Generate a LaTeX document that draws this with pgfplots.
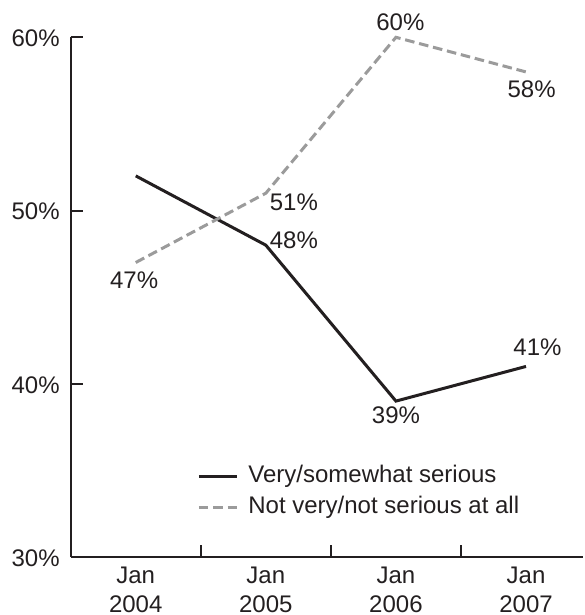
\documentclass[border=0pt]{standalone}
\usepackage{fontspec}
\setmainfont{Liberation Sans}
\usepackage{pgfplots}
\pgfplotsset{compat=1.18}
\definecolor{ink}{RGB}{35,31,32}
\definecolor{lightline}{RGB}{155,155,155}

\begin{document}
\begin{tikzpicture}[font=\fontsize{12}{14.2}\selectfont, text=ink]
\begin{axis}[
    scale only axis,
    width=256.15pt, height=259.85pt,
    xmin=-0.5, xmax=3.438,
    ymin=30, ymax=60,
    axis x line*=bottom, axis y line*=left,
    axis line style={ink, line width=1pt},
    tick style={ink, line width=1pt},
    tick align=inside,
    major tick length=6pt,
    ytick={30,40,50,60},
    yticklabels={30\%,40\%,50\%,60\%},
    yticklabel style={inner sep=0pt, xshift=-5.35pt, yshift=-0.5pt},
    xtick={0.5,1.5,2.5},
    xticklabels={},
    extra x ticks={0,1,2,3},
    extra x tick labels={Jan\\2004,Jan\\2005,Jan\\2006,Jan\\2007},
    extra x tick style={major tick length=0pt,
        xticklabel style={align=center, inner sep=0pt, yshift=-5pt}},
    clip=false,
    legend style={draw=none, fill=none, at={(0.2465,0.178)}, anchor=north west,
        inner sep=0pt, row sep=4pt,
        nodes={inner sep=0pt, text height=8.8pt, text depth=2.6pt}},
    legend cell align=left,
    legend image code/.code={\draw[#1] (0pt,0pt) -- (19pt,0pt); \path (24pt,0pt);},
]

\addplot[ink, line width=1.5pt, mark=none] coordinates {
    (0,52) (1,48) (2,39) (3,41)
};
\addlegendentry{Very/somewhat serious}

\addplot[lightline, line width=1.5pt, mark=none, dash pattern=on 4.8pt off 2.4pt] coordinates {
    (0,47) (1,51) (2,60) (3,58)
};
\addlegendentry{Not very/not serious at all}

% value labels
\node[anchor=base, inner sep=0pt, xshift=-0.8pt, yshift=-13pt] at (axis cs:0,47) {47\%};
\node[anchor=base, inner sep=0pt, xshift=14pt, yshift=-8.5pt] at (axis cs:1,51) {51\%};
\node[anchor=base, inner sep=0pt, xshift=14pt, yshift=-1.7pt] at (axis cs:1,48) {48\%};
\node[anchor=base, inner sep=0pt, xshift=2.2pt, yshift=3.5pt] at (axis cs:2,60) {60\%};
\node[anchor=base, inner sep=0pt, yshift=-11.2pt] at (axis cs:2,39) {39\%};
\node[anchor=base, inner sep=0pt, xshift=2.8pt, yshift=-13pt] at (axis cs:3,58) {58\%};
\node[anchor=base, inner sep=0pt, xshift=5.7pt, yshift=5.7pt] at (axis cs:3,41) {41\%};
\end{axis}
\path ([xshift=-35.35pt,yshift=-29pt]current axis.south west)
    rectangle ([yshift=18.65pt]current axis.north east);
\end{tikzpicture}
\end{document}
